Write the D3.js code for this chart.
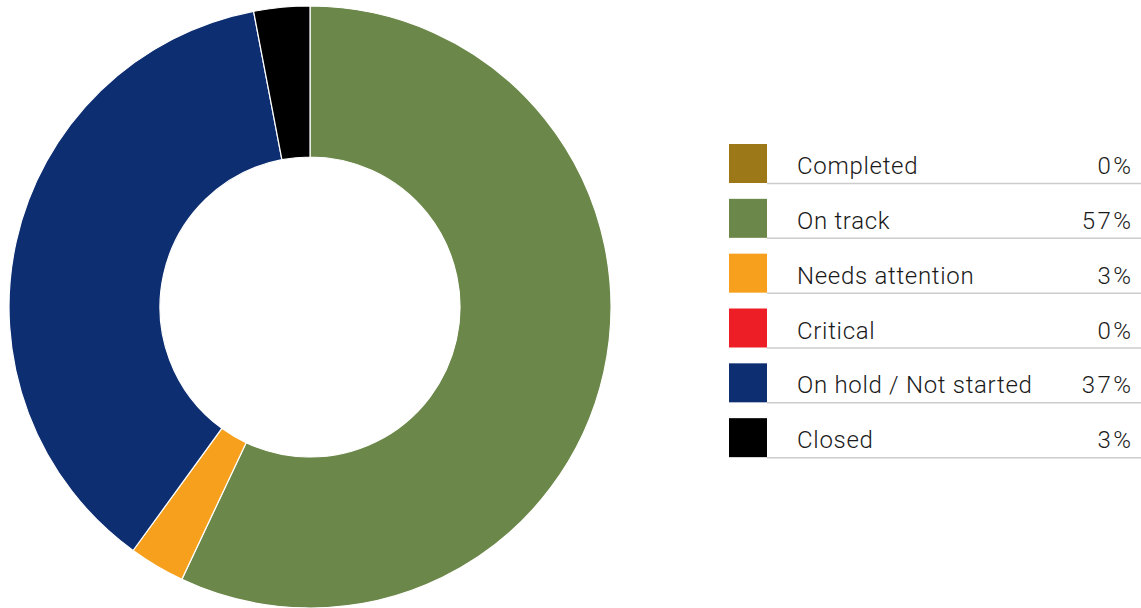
<!DOCTYPE html>
<html>
<head>
<meta charset="utf-8">
<script src="https://cdn.jsdelivr.net/npm/d3@7"></script>
<style>
  html, body { margin: 0; padding: 0; background: #fff; }
  svg { display: block; }
  text { font-family: Roboto, "Liberation Sans", sans-serif; fill: #1a1a1a; }
</style>
</head>
<body>
<svg id="chart" width="1141" height="608"></svg>
<script>
// Project status breakdown (percent of projects)
const categories = ["Completed", "On track", "Needs attention", "Critical", "On hold / Not started", "Closed"];
const percents = [0, 57, 3, 0, 37, 3];
const percentLabels = ["0%", "57%", "3%", "0%", "37%", "3%"];
const colors = ["#9C7818", "#6B8749", "#F7A01E", "#EE1E26", "#0E2E72", "#000000"];

const svg = d3.select("#chart");

// Donut
const cx = 310, cy = 307, outerR = 301, innerR = 150;
const data = categories.map((c, i) => ({ name: c, value: percents[i], color: colors[i] }));
const pie = d3.pie().sort(null).value(d => d.value);
const arc = d3.arc().innerRadius(innerR).outerRadius(outerR);

svg.append("g")
  .attr("transform", `translate(${cx},${cy})`)
  .selectAll("path")
  .data(pie(data).filter(d => d.data.value > 0))
  .join("path")
  .attr("d", arc)
  .attr("fill", d => d.data.color)
  .attr("stroke", "#ffffff")
  .attr("stroke-width", 1.2);

// Legend table
const y = d3.scaleBand().domain(categories).range([144, 473]).paddingInner(0);
const sw = 38, legX = 729, labelX = 797, valX = 1131, lineEnd = 1141;
const swH = 39;

const rows = svg.append("g").selectAll("g")
  .data(data)
  .join("g")
  .attr("transform", d => `translate(0,${y(d.name)})`);

rows.append("rect")
  .attr("x", legX).attr("y", 0)
  .attr("width", sw).attr("height", swH)
  .attr("fill", d => d.color);

rows.append("line")
  .attr("x1", legX + sw).attr("x2", lineEnd)
  .attr("y1", swH + 0.5).attr("y2", swH + 0.5)
  .attr("stroke", "#cccccc").attr("stroke-width", 1.5);

rows.append("text")
  .attr("x", labelX).attr("y", 30)
  .attr("font-size", 24)
  .attr("font-weight", 300)
  .attr("letter-spacing", 0.7)
  .text(d => d.name);

rows.append("text")
  .attr("x", valX + 2.5).attr("y", 30)
  .attr("font-size", 24)
  .attr("font-weight", 300)
  .attr("letter-spacing", 2.5)
  .attr("text-anchor", "end")
  .text((d, i) => percentLabels[i]);
</script>
</body>
</html>
